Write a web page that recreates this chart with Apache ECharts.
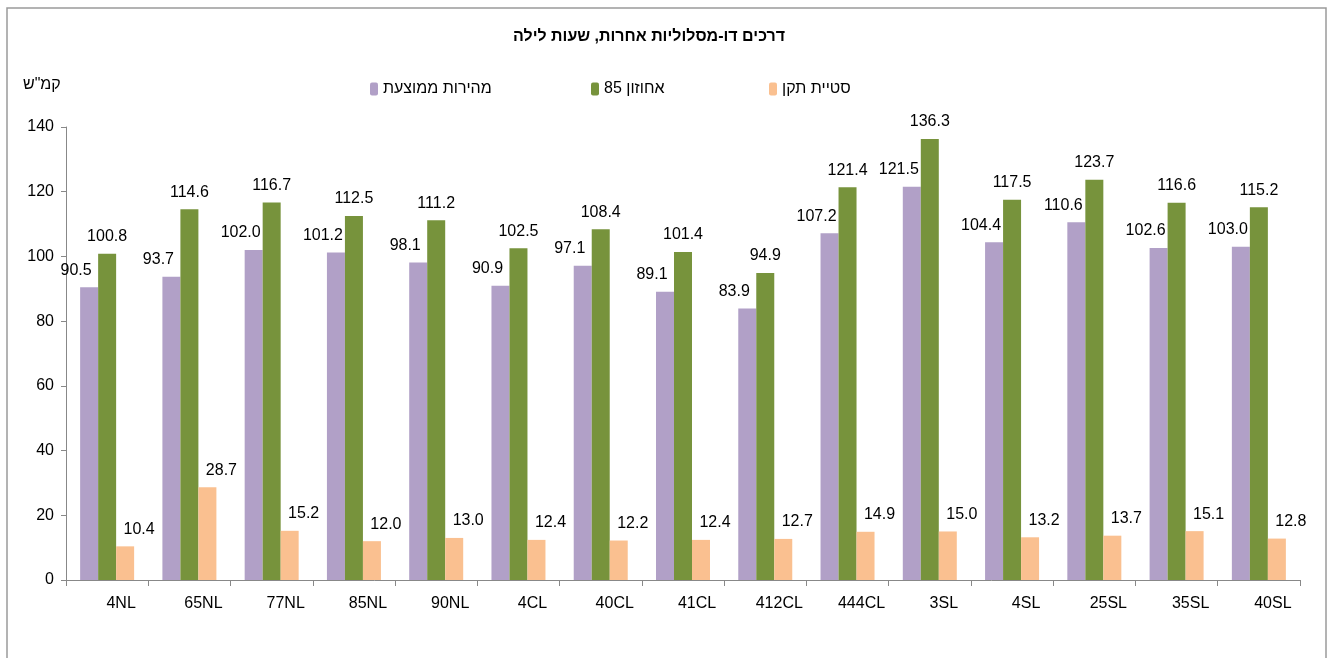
<!DOCTYPE html>
<html><head><meta charset="utf-8">
<script src="https://cdn.jsdelivr.net/npm/echarts@6/dist/echarts.min.js"></script>
<style>html,body{margin:0;padding:0;background:#fff}#c{width:1328px;height:658px}</style>
</head><body><div id="c"></div>
<script>
const categories = ['4NL','65NL','77NL','85NL','90NL','4CL','40CL','41CL','412CL','444CL','3SL','4SL','25SL','35SL','40SL'];
const avgSpeed = [90.5,93.7,102.0,101.2,98.1,90.9,97.1,89.1,83.9,107.2,121.5,104.4,110.6,102.6,103.0];
const p85 = [100.8,114.6,116.7,112.5,111.2,102.5,108.4,101.4,94.9,121.4,136.3,117.5,123.7,116.6,115.2];
const stdDev = [10.4,28.7,15.2,12.0,13.0,12.4,12.2,12.4,12.7,14.9,15.0,13.2,13.7,15.1,12.8];
const seriesNames = ['מהירות ממוצעת','אחוזון 85','סטיית תקן'];
const titleText = 'דרכים דו-מסלוליות אחרות, שעות לילה';
const unitText = 'קמ"ש';
const yTicks = {min:0, max:140, interval:20};

const font = 'Liberation Sans, Arial, sans-serif';
const chart = echarts.init(document.getElementById('c'));
function lbl(dx){
  return {show:true, position:'top', distance:9, offset:[dx,0], color:'#000', fontSize:16, fontFamily:font,
    formatter:p=>p.value.toFixed(1)};
}
const legendLefts = [365, 586, 764];
chart.setOption({
  animation:false,
  backgroundColor:'#fff',
  graphic:[
    {type:'rect', shape:{x:7,y:8,width:1319,height:660}, style:{fill:'none', stroke:'#9a9a9a', lineWidth:1.5}, silent:true},
    {type:'text', left:23, top:77, style:{text:unitText, font:'16px '+font, fill:'#000'}}
  ],
  title:{text:titleText, left:508, top:24, textStyle:{fontSize:16, fontWeight:'bold', fontFamily:font, color:'#000'}},
  legend:seriesNames.map((n,i)=>({left:legendLefts[i], top:76, itemWidth:8, itemHeight:13,
    textStyle:{fontSize:16, fontFamily:font, color:'#000'}, data:[n]})),
  grid:{left:66, right:28, top:127, bottom:78, containLabel:false},
  xAxis:{type:'category', data:categories,
    axisLine:{lineStyle:{color:'#888'}}, axisTick:{show:true, length:6, interval:0, lineStyle:{color:'#888'}},
    axisLabel:{interval:0, margin:16, color:'#000', fontSize:16, fontFamily:font, padding:[0,0,0,28]}},
  yAxis:{type:'value', min:yTicks.min, max:yTicks.max, interval:yTicks.interval,
    axisLine:{show:true, lineStyle:{color:'#888'}}, axisTick:{show:true, length:5, lineStyle:{color:'#888'}},
    splitLine:{show:false},
    axisLabel:{margin:12, color:'#000', fontSize:16, fontFamily:font}},
  series:[
    {name:seriesNames[0], type:'bar', data:avgSpeed, barWidth:18, barGap:'0%', itemStyle:{color:'#B1A0C7'}, label:lbl(-13)},
    {name:seriesNames[1], type:'bar', data:p85, barWidth:18, barGap:'0%', itemStyle:{color:'#77933C'}, label:lbl(0)},
    {name:seriesNames[2], type:'bar', data:stdDev, barWidth:18, barGap:'0%', itemStyle:{color:'#FAC090'}, label:lbl(14)}
  ]
});
</script></body></html>
